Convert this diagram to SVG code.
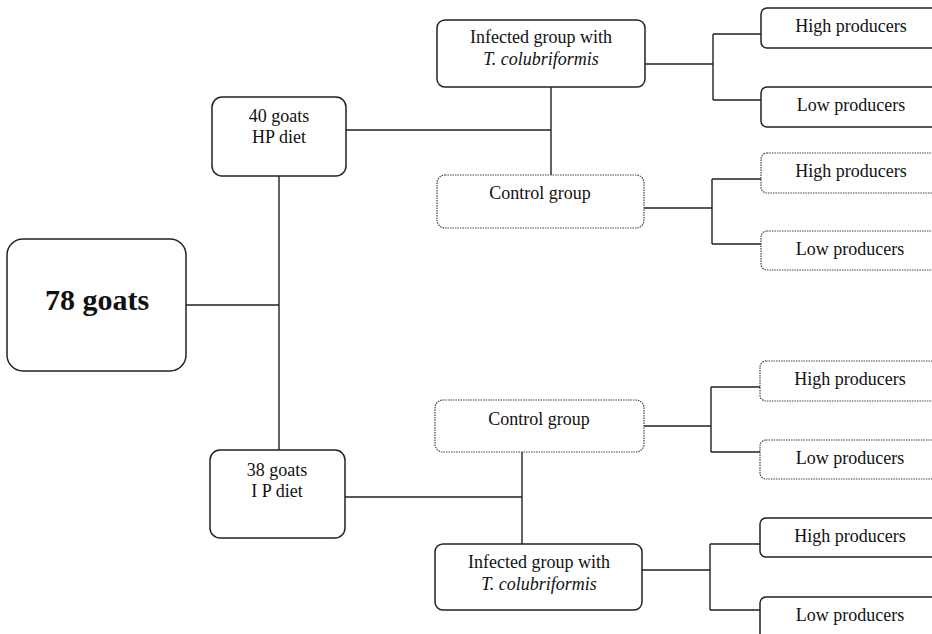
<svg xmlns="http://www.w3.org/2000/svg" width="932" height="634" viewBox="0 0 932 634">
<style>
.box{fill:#fff;stroke:#222;stroke-width:1.5}
.dot{fill:#fff;stroke:#444;stroke-width:1.2;stroke-dasharray:1.5 1}
.ln{fill:none;stroke:#222;stroke-width:1.4}
text{font-family:"Liberation Serif","Times New Roman",serif;font-size:18px;fill:#111;text-anchor:middle}
.big{font-size:30px;font-weight:bold}
.it{font-style:italic}
</style>
<rect width="932" height="634" fill="#fff"/>
<g id="connectors">
<path class="ln" d="M186 305H279M279 176V450"/>
<path class="ln" d="M346 130H551M551 87V175"/>
<path class="ln" d="M345 497H522M522 452V544"/>
<path class="ln" d="M645 64H713M713 34V100M713 34H761M713 100H761"/>
<path class="ln" d="M644 208H712M712 179V244M712 179H761M712 244H761"/>
<path class="ln" d="M644 426H711M711 387V452M711 387H761M711 452H761"/>
<path class="ln" d="M642 570H710M710 544V610M710 544H761M710 610H761"/>
</g>
<g id="n78"><rect class="box" x="7" y="239" width="179" height="132" rx="16"/><text class="big" x="97" y="310">78 goats</text></g>
<g id="n40"><rect class="box" x="212" y="97" width="134" height="79" rx="10"/><text x="279" y="122">40 goats</text><text x="279" y="143">HP diet</text></g>
<g id="n38"><rect class="box" x="210" y="450" width="135" height="88" rx="10"/><text x="277" y="476">38 goats</text><text x="277" y="497">I P diet</text></g>
<g id="infTop"><rect class="box" x="437" y="20" width="208" height="67" rx="8"/><text x="541" y="43">Infected group with</text><text class="it" x="541" y="65">T. colubriformis</text></g>
<g id="ctlTop"><rect class="dot" x="437" y="175" width="207" height="53" rx="8"/><text x="540" y="199">Control group</text></g>
<g id="ctlBot"><rect class="dot" x="435" y="400" width="209" height="52" rx="8"/><text x="539" y="425">Control group</text></g>
<g id="infBot"><rect class="box" x="435" y="544" width="207" height="66" rx="8"/><text x="539" y="568">Infected group with</text><text class="it" x="539" y="590">T. colubriformis</text></g>
<g id="hp1"><rect class="box" x="761" y="8" width="200" height="40" rx="6"/><text x="851" y="32">High producers</text></g>
<g id="lp1"><rect class="box" x="761" y="87" width="200" height="40" rx="6"/><text x="851" y="111">Low producers</text></g>
<g id="hp2"><rect class="dot" x="761" y="153" width="200" height="40" rx="6"/><text x="851" y="177">High producers</text></g>
<g id="lp2"><rect class="dot" x="761" y="231" width="200" height="39" rx="6"/><text x="850" y="255">Low producers</text></g>
<g id="hp3"><rect class="dot" x="760" y="361" width="200" height="40" rx="6"/><text x="850" y="385">High producers</text></g>
<g id="lp3"><rect class="dot" x="760" y="440" width="200" height="39" rx="6"/><text x="850" y="464">Low producers</text></g>
<g id="hp4"><rect class="box" x="760" y="518" width="200" height="39" rx="6"/><text x="850" y="542">High producers</text></g>
<g id="lp4"><rect class="box" x="760" y="597" width="200" height="60" rx="6"/><text x="850" y="621">Low producers</text></g>
</svg>
